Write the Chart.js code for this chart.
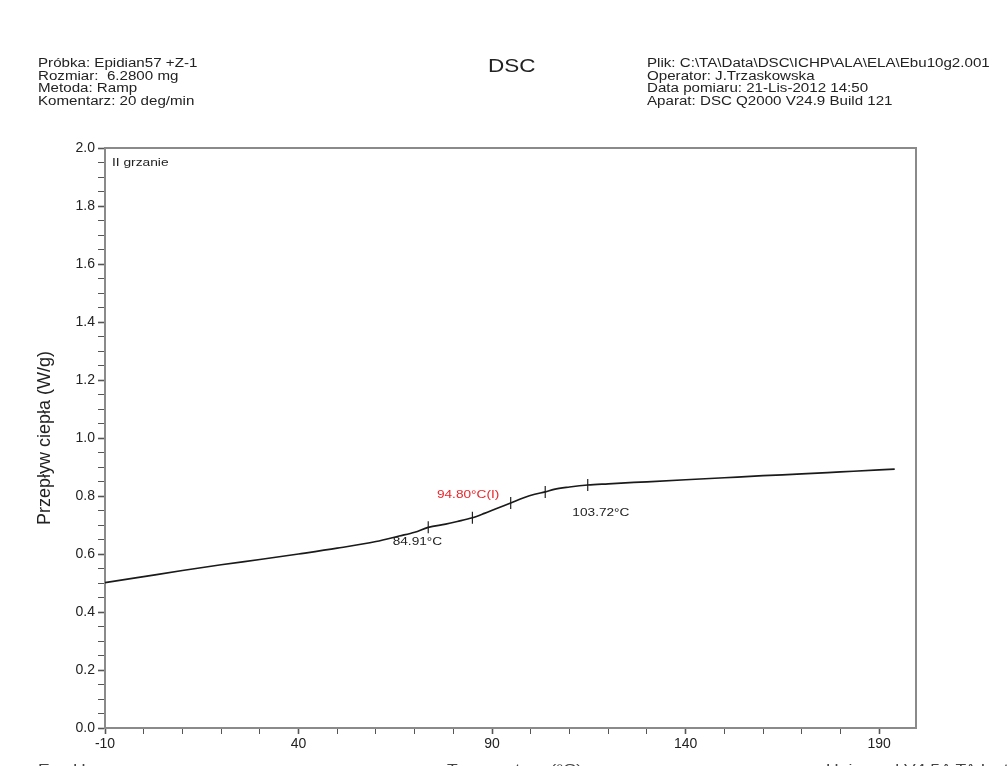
<!DOCTYPE html>
<html>
<head>
<meta charset="utf-8">
<script src="https://cdn.jsdelivr.net/npm/chart.js@4.4.1/dist/chart.umd.min.js"></script>
<style>
html, body { margin: 0; padding: 0; background: #fff; overflow: hidden; }
#wrap { position: relative; width: 1008px; height: 766px; overflow: hidden; }
#wrap canvas { position: absolute; left: 0; top: 0; }
.txt { position: absolute; font-family: "Liberation Sans", Arial, sans-serif; color: #222; white-space: nowrap; transform-origin: 0 0; }
.head { font-size: 12.5px; line-height: 12.6px; transform: scaleX(1.21); }
.foot { top: 762px; font-size: 13.5px; line-height: 14px; transform: scaleX(1.3); color: #444; }
</style>
</head>
<body>
<div id="wrap">
  <canvas id="dsc" width="1008" height="766"></canvas>
  <div class="txt head" style="left:38px; top:57px">Próbka: Epidian57 +Z-1<br>Rozmiar:&nbsp; 6.2800 mg<br>Metoda: Ramp<br>Komentarz: 20 deg/min</div>
  <div class="txt" style="left:488px; top:57px; font-size:18px; line-height:18px; transform:scaleX(1.25)">DSC</div>
  <div class="txt head" style="left:647px; top:57px">Plik: C:\TA\Data\DSC\ICHP\ALA\ELA\Ebu10g2.001<br>Operator: J.Trzaskowska<br>Data pomiaru: 21-Lis-2012 14:50<br>Aparat: DSC Q2000 V24.9 Build 121</div>
  <div class="txt" style="left:112px; top:156px; font-size:11px; line-height:12px; transform:scaleX(1.25)">II grzanie</div>
  <div class="txt foot" style="left:38px">Exo Up</div>
  <div class="txt foot" style="left:447px">Temperatura (°C)</div>
  <div class="txt foot" style="left:826px">Universal V4.5A TA Instruments</div>
</div>
<script>
// DSC trace, 2nd heating
var temps = [-10, 0, 10, 20, 30, 40, 50, 60, 66, 70, 73.5, 78, 81, 84.91, 88, 91, 94.8, 98, 101, 103.72, 106, 110, 114.7, 120, 130, 140, 150, 160, 170, 180, 190, 194]
var heatFlow = [0.501, 0.522, 0.543, 0.563, 0.581, 0.600, 0.620, 0.643, 0.662, 0.675, 0.692, 0.703, 0.712, 0.725, 0.740, 0.756, 0.776, 0.793, 0.806, 0.814, 0.823, 0.831, 0.838, 0.842, 0.849, 0.856, 0.863, 0.870, 0.876, 0.883, 0.890, 0.893]

// analysis marks (onset / midpoint / end + fit limits)
var markTemps = [73.5, 84.91, 94.8, 103.72, 114.7]
var markFlow = [0.692, 0.725, 0.776, 0.814, 0.838]

// labels next to the marks
var noteTexts = ['84.91°C', '94.80°C(I)', '103.72°C']
var noteTemps = [70.7, 83.8, 118.1]
var noteFlow = [0.641, 0.803, 0.741]
var noteColors = ['#222', '#e8262b', '#222']

var xLabelTicks = [-10, 40, 90, 140, 190]
var yLabelTicks = [0.0, 0.2, 0.4, 0.6, 0.8, 1.0, 1.2, 1.4, 1.6, 1.8, 2.0]

function isXLabel(v) { return xLabelTicks.indexOf(Math.round(v)) >= 0 }
function isYLabel(v) { return yLabelTicks.some(function (t) { return Math.abs(t - v) < 1e-6 }) }

var framePlugin = {
    id: 'frame',
    afterDraw: function (chart) {
        var ctx = chart.ctx
        var a = chart.chartArea
        ctx.save()
        ctx.strokeStyle = '#8a8a8a'
        ctx.lineWidth = 2
        ctx.beginPath()
        ctx.moveTo(a.left, a.top)
        ctx.lineTo(a.right, a.top)
        ctx.lineTo(a.right, a.bottom)
        ctx.stroke()

        // labels at the glass transition
        var xs = chart.scales.x, ys = chart.scales.y
        ctx.font = '10.5px "Liberation Sans", Arial, sans-serif'
        ctx.textAlign = 'center'
        ctx.textBaseline = 'middle'
        for (var i = 0; i < noteTexts.length; i++) {
            ctx.save()
            ctx.translate(xs.getPixelForValue(noteTemps[i]), ys.getPixelForValue(noteFlow[i]))
            ctx.scale(1.3, 1)
            ctx.fillStyle = noteColors[i]
            ctx.fillText(noteTexts[i], 0, 0)
            ctx.restore()
        }
        ctx.restore()
    }
}

var points = temps.map(function (t, i) { return {x: t, y: heatFlow[i]} })
var marks = markTemps.map(function (t, i) { return {x: t, y: markFlow[i]} })

new Chart(document.getElementById('dsc'), {
    type: 'scatter',
    data: {
        datasets: [{
            data: points,
            showLine: true,
            borderColor: '#1a1a1a',
            borderWidth: 1.7,
            pointRadius: 0,
            cubicInterpolationMode: 'monotone'
        }, {
            data: marks,
            showLine: false,
            pointStyle: 'line',
            rotation: 90,
            pointRadius: 6,
            borderColor: '#222',
            borderWidth: 1.2
        }]
    },
    options: {
        responsive: false,
        animation: false,
        events: [],
        layout: { padding: { left: 0, top: 148, right: 92, bottom: 0 } },
        plugins: { legend: { display: false }, tooltip: { enabled: false } },
        scales: {
            x: {
                type: 'linear',
                min: -10,
                max: 199.5,
                afterFit: function (s) { s.height = 38 },
                border: { color: '#8a8a8a', width: 2 },
                grid: {
                    drawOnChartArea: false,
                    tickLength: 6,
                    tickColor: '#555',
                    tickWidth: function (c) { return isXLabel(c.tick.value) ? 1.6 : 1 }
                },
                ticks: {
                    stepSize: 10,
                    includeBounds: false,
                    autoSkip: false,
                    maxRotation: 0,
                    padding: 2,
                    color: '#222',
                    font: { family: '"Liberation Sans", Arial, sans-serif', size: 14 },
                    callback: function (v) { return isXLabel(v) ? String(Math.round(v)) : '' }
                }
            },
            y: {
                min: 0,
                max: 2,
                afterFit: function (s) { s.width = 105 },
                border: { color: '#8a8a8a', width: 2 },
                grid: {
                    drawOnChartArea: false,
                    tickLength: 7,
                    tickColor: '#555',
                    tickWidth: function (c) { return isYLabel(c.tick.value) ? 1.6 : 1 }
                },
                ticks: {
                    stepSize: 0.05,
                    autoSkip: false,
                    padding: 3,
                    color: '#222',
                    font: { family: '"Liberation Sans", Arial, sans-serif', size: 14 },
                    callback: function (v) { return isYLabel(v) ? v.toFixed(1) : '' }
                },
                title: {
                    display: true,
                    text: 'Przepływ ciepła (W/g)',
                    color: '#222',
                    font: { family: '"Liberation Sans", Arial, sans-serif', size: 18 },
                    padding: { top: 34, bottom: 0 }
                }
            }
        }
    },
    plugins: [framePlugin]
})
</script>
</body>
</html>
